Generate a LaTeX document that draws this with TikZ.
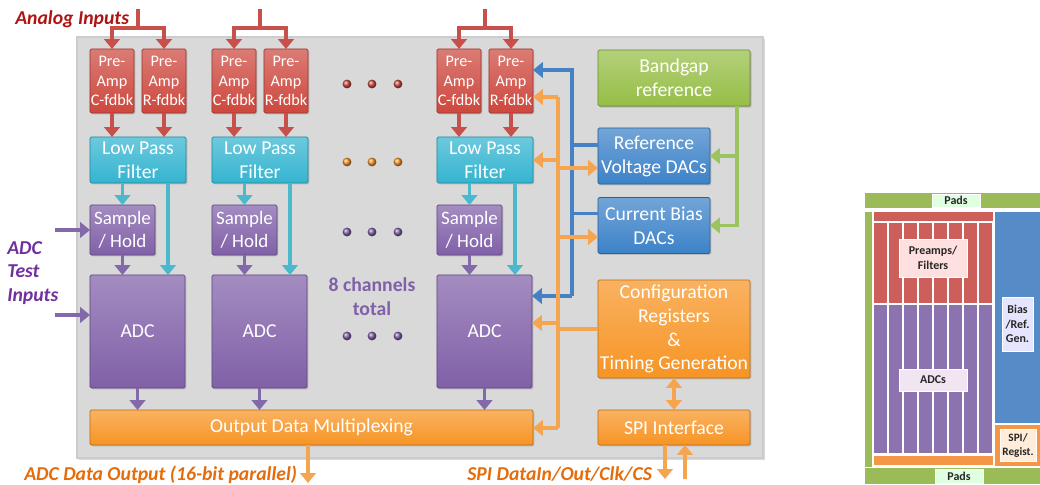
\documentclass[tikz,border=0pt]{standalone}
\usepackage{fontspec}
\setmainfont{Carlito}
\usetikzlibrary{arrows.meta,calc,shadows}

\definecolor{pared}{RGB}{205,72,62}
\definecolor{lpfteal}{RGB}{52,180,208}
\definecolor{adcpur}{RGB}{128,96,168}
\definecolor{mxorng}{RGB}{247,148,36}
\definecolor{bggreen}{RGB}{150,190,70}
\definecolor{dacblue}{RGB}{60,130,200}
\definecolor{panelgr}{RGB}{217,217,217}
\definecolor{redar}{RGB}{200,80,75}
\definecolor{tlar}{RGB}{75,185,205}
\definecolor{puar}{RGB}{130,105,170}
\definecolor{blar}{RGB}{70,130,195}
\definecolor{orar}{RGB}{245,165,80}
\definecolor{grar}{RGB}{155,195,95}
\definecolor{anred}{RGB}{175,20,20}
\definecolor{tstpur}{RGB}{112,48,160}
\definecolor{outorg}{RGB}{228,108,10}
\definecolor{fpgreen}{RGB}{155,187,89}
\definecolor{fpred}{RGB}{205,95,90}
\definecolor{fppur}{RGB}{140,115,175}
\definecolor{fpblue}{RGB}{85,140,200}
\definecolor{fporng}{RGB}{245,150,70}

\tikzset{
  blk/.style={draw=#1!75!black, line width=0.6pt, top color=#1!72!white, bottom color=#1,
    inner sep=0pt, outer sep=0pt, rounded corners=1pt, align=center, text=white,
    font=\fontsize{14}{17}\selectfont,
    drop shadow={shadow xshift=1pt, shadow yshift=-1pt, opacity=0.35}},
  preamp/.style={blk=pared, minimum width=1.1cm, minimum height=1.6cm, font=\fontsize{11.5}{14}\selectfont},
  lpf/.style={blk=lpfteal, minimum width=2.4cm, minimum height=1.15cm},
  sh/.style={blk=adcpur, minimum width=1.625cm, minimum height=1.25cm, font=\fontsize{13.5}{16.5}\selectfont},
  adc/.style={blk=adcpur, minimum width=2.375cm, minimum height=2.825cm},
  orblk/.style={blk=mxorng, minimum width=3.8cm},
  dac/.style={blk=dacblue, minimum width=2.8cm, minimum height=1.4cm},
  ln/.style={line width=2.4pt, draw=#1},
  arr/.style={ln=#1, -{Triangle[width=11pt,length=7pt]}},
  darr/.style={ln=#1, {Triangle[width=11pt,length=7pt]}-{Triangle[width=11pt,length=7pt]}},
  lbl/.style={text=#1, inner sep=0pt, font=\bfseries\itshape\fontsize{14}{16.5}\selectfont},
  fplbl/.style={fill=#1, draw=white, line width=0.4pt, inner sep=0pt, align=center,
    text=black!85, font=\bfseries\fontsize{8.5}{10.5}\selectfont}
}

\begin{document}
\begin{tikzpicture}[x=0.025cm,y=-0.025cm]
\useasboundingbox (0,0) rectangle (1040,485);

% chip
\fill[panelgr, draw=gray!40, line width=0.8pt,
  drop shadow={shadow xshift=1.5pt, shadow yshift=-1.5pt, opacity=0.3}] (77,37) rectangle (763,458);

\node[orblk, minimum width=11.075cm, minimum height=0.875cm] (mux) at (311.5,427.5) {Output Data Multiplexing};

\foreach \i/\dx in {1/0,2/122,3/347}{
  \node[preamp] (c\i) at (112+\dx,81) {Pre-\\Amp\\C-fdbk};
  \node[preamp] (r\i) at (164+\dx,81) {Pre-\\Amp\\R-fdbk};
  \node[lpf] (lpf\i) at (138+\dx,160) {Low Pass\\Filter};
  \node[sh] (sh\i) at (122.5+\dx,230) {Sample\\/ Hold};
  \node[adc] (adc\i) at (137.5+\dx,331.5) {ADC};
  \coordinate (ain\i) at (138+\dx,9);
  \draw[ln=redar] (ain\i) -- ++(0,19) coordinate (aj\i);
  \draw[arr=redar] (aj\i) -| (c\i.north);
  \draw[arr=redar] (aj\i) -| (r\i.north);
  \draw[arr=redar] (c\i) -- (c\i |- lpf\i.north);
  \draw[arr=redar] (r\i) -- (r\i |- lpf\i.north);
  \draw[arr=tlar] (sh\i.north |- lpf\i.south) -- (sh\i.north);
  \draw[arr=tlar] ($(lpf\i.south)+(30,0)$) -- ($(lpf\i.south |- adc\i.north)+(30,0)$);
  \draw[arr=puar] (sh\i) -- (sh\i |- adc\i.north);
  \draw[arr=puar] (adc\i) -- (adc\i |- mux.north);
}

\foreach \y/\c in {84/pared,162/mxorng,232/adcpur,336/adcpur}
  \foreach \x in {347,372,398}
    \shade[ball color=\c] (\x,\y) circle (0.11cm);
\node[text=adcpur, align=center, font=\bfseries\fontsize{14}{17}\selectfont] (nch) at (372,297) {8 channels\\total};

% bias and control
\node[orblk, blk=bggreen, minimum height=1.4cm] (bg) at (674,78) {Bandgap\\reference};
\node[dac] (rv) at (654,156) {Reference\\Voltage DACs};
\node[dac] (cb) at (654,225.5) {Current Bias\\DACs};
\node[orblk, minimum height=2.45cm] (cfg) at (674,329) {Configuration\\Registers\\\&\\Timing Generation};
\node[orblk, minimum height=0.875cm] (spi) at (674,427.5) {SPI Interface};

\coordinate (gtop) at ($(bg.south east)+(-13,0)$);
\draw[arr=grar] (gtop) |- (cb.east);
\draw[arr=grar] (gtop |- rv.east) -- (rv.east);

\coordinate (btop) at (572,70);
\coordinate (bbot) at (572,296);
\draw[arr=blar] (bbot) -- (btop) -- (btop -| r3.east);
\draw[arr=blar] (bbot) -- (bbot -| adc3.east);
\draw[ln=blar] ($(rv.west)+(0,-11)$) -- ++(-26,0);
\draw[ln=blar] ($(cb.west)+(0,-12)$) -- ++(-26,0);

\coordinate (otop) at (558,97);
\coordinate (obot) at (558,428);
\coordinate (rvin) at ($(rv.west)+(0,12)$);
\coordinate (cbin) at ($(cb.west)+(0,11.5)$);
\coordinate (adin) at ($(adc3.east)+(0,-8.5)$);
\draw[ln=orar] (otop) -- (obot);
\draw[ln=orar] (cfg.west) -- (cfg.west -| otop);
\draw[arr=orar] (otop) -- (otop -| r3.east);
\draw[arr=orar] (otop |- lpf3.east) -- (lpf3.east);
\draw[arr=orar] (otop |- rvin) -- (rvin);
\draw[arr=orar] (otop |- cbin) -- (cbin);
\draw[arr=orar] (otop |- adin) -- (adin);
\draw[arr=orar] (obot) -- (obot -| mux.east);
\draw[darr=orar] (cfg) -- (spi);

\coordinate (sdout) at (665,479);
\coordinate (sdin) at (685,479);
\draw[arr=orar] (spi.south -| sdout) -- (sdout);
\draw[arr=orar] (sdin) -- (sdin |- spi.south);
\coordinate (dout) at (308,483);
\draw[arr=orar] (dout |- mux.south) -- (dout);

% inputs and outputs
\node[lbl=anred, anchor=west] (anin) at (15,19) {Analog Inputs};
\node[lbl=tstpur, anchor=west, align=left] (tstin) at (7,273) {ADC\\Test\\Inputs};
\coordinate (tin1) at (55,230);
\coordinate (tin2) at (55,315);
\draw[arr=puar] (tin1) -- (sh1.west);
\draw[arr=puar] (tin2) -- (tin2 -| adc1.west);
\node[lbl=outorg, anchor=west] (adout) at (24,475) {ADC Data Output (16-bit parallel)};
\node[lbl=outorg, anchor=west] (spiio) at (467,474) {SPI DataIn/Out/Clk/CS};

% floorplan
\fill[fpgreen] (865,193) rectangle (1040,208);
\fill[fpgreen] (865,468) rectangle (1040,484);
\fill[fpgreen] (865,212) rectangle (872,467);
\fill[fpred] (874,212) rectangle (993,221);
\fill[fporng] (874,456) rectangle (993,465);
\foreach \k in {0,...,7}{
  \fill[fpred] (874+15*\k,223) rectangle (886.5+15*\k,303);
  \fill[fppur] (874+15*\k,305) rectangle (886.5+15*\k,453);
}
\fill[fpblue] (995,212) rectangle (1040,423);
\fill[fporng] (995,425) rectangle (1040,466);
\node[fplbl=green!12, minimum width=1.2cm, minimum height=0.33cm] (pads1) at (956,200.5) {Pads};
\node[fplbl=green!12, minimum width=1.2cm, minimum height=0.35cm] (pads2) at (959,476) {Pads};
\node[fplbl=red!12, minimum width=1.7cm, minimum height=0.95cm] (fppre) at (933,258) {Preamps/\\Filters};
\node[fplbl=violet!10, minimum width=1.7cm, minimum height=0.55cm] (fpadc) at (933,380) {ADCs};
\node[fplbl=blue!10, minimum width=0.78cm, minimum height=1.35cm] (fpbias) at (1017.5,324) {Bias\\/Ref.\\Gen.};
\node[fplbl=orange!15, minimum width=0.9cm, minimum height=0.8cm, font=\bfseries\fontsize{8}{10}\selectfont] (fpspi) at (1018,445.5) {SPI/\\Regist.};
\end{tikzpicture}
\end{document}
